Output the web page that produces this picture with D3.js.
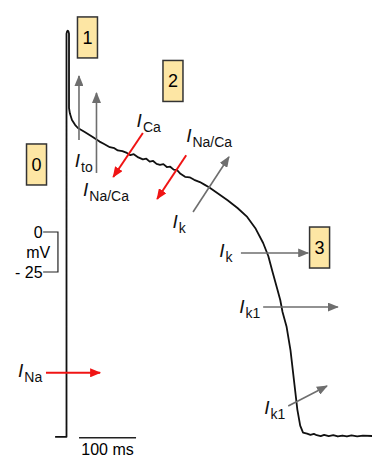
<!DOCTYPE html>
<html>
<head>
<meta charset="utf-8">
<script src="https://cdn.jsdelivr.net/npm/d3@7"></script>
<style>
  body { margin: 0; background: #fff; }
  svg { display: block; font-family: "Liberation Sans", Arial, Helvetica, sans-serif; }
</style>
</head>
<body>
<div id="chart"></div>
<script>
// cardiac action potential with ionic currents

const FRAME_WIDTH = 372;
const FRAME_HEIGHT = 460;

// trace: time (ms) and membrane voltage (mV)
const TRACE_T = [-20, 0, 0, 1, 2.2, 3.4, 4.4, 4.4, 6, 9.6, 15, 20, 32, 46, 58, 66, 76, 84, 90, 98,
  106, 112, 118, 126, 134, 140, 146, 152, 158, 164, 170, 176, 182, 188, 194, 200, 208, 216, 224, 234,
  242, 250, 262, 282, 300, 317, 332, 345, 354, 362, 370, 375, 379, 386, 393, 400, 405, 410, 415, 422, 428,
  434, 439, 446, 452, 460, 468, 476, 484, 492, 500, 510, 520, 536];
const TRACE_V = [-128, -128, 124, 125.4, 125.8, 125.4, 124, 77.5, 74, 70, 67, 65, 62.5, 59.4, 56.5, 55, 53, 52.4, 51, 50.5,
  49.4, 48, 48.6, 46.6, 45.4, 45.8, 44, 44.4, 42.6, 42, 42.4, 40.6, 40.8, 39, 38.6, 36.4, 34.5, 34.2, 32.6, 31.2,
  29.6, 28, 25, 20, 15, 9.4, 2, -6.9, -15, -25.6, -36, -42.5, -50, -59, -74, -95.6, -111, -121, -125.4, -126, -126.8,
  -126.2, -127, -127.6, -126.8, -127.6, -127, -127.8, -127.2, -127.8, -127.1, -127.7, -127.3, -127.5];

// phase boxes (centre position)
const BOX_LABELS = ['0', '1', '2', '3'];
const BOX_T = [-52.6, 36.8, 186.8, 444];
const BOX_V = [42.2, 121.6, 94.4, -9.7];

// current arrows: start/end in (ms, mV)
const ARROW_KIND = ['out', 'out', 'out', 'out', 'out', 'out', 'in', 'in', 'in'];
const ARROW_T0 = [21.9, 52.6, 222, 306, 345, 389, 134, 210, -36];
const ARROW_V0 = [57.5, 36.9, 12.5, -13.1, -46.9, -108.8, 61.9, 48, -88];
const ARROW_T1 = [21.9, 52.6, 285, 424, 476, 457, 82, 159, 59];
const ARROW_V1 = [97.5, 86.9, 46.9, -13.1, -46.9, -96.3, 34.4, 20.6, -88];

// current labels (I + subscript)
const LABEL_SUB = ['to', 'Na/Ca', 'Ca', 'Na/Ca', 'k', 'k', 'k1', 'k1', 'Na'];
const LABEL_T = [14.5, 29, 123, 210, 186, 268, 303, 347, -85];
const LABEL_V = [40.6, 22.5, 65.6, 56.3, 2.5, -15.6, -50.6, -114, -90.6];

// scale bars
const SCALE_MS = 100;
const SCALE_MS_START = 22;
const SCALE_MV = [0, -25];
const SCALE_MV_T = [-41, -15];

const svg = d3.select('#chart')
  .append('svg')
    .attr('width', FRAME_WIDTH)
    .attr('height', FRAME_HEIGHT);

// scales: 100 ms = 57 px, 25 mV = 40 px
const xscale = d3.scaleLinear()
  .domain([0, 100])
  .range([66.5, 123.5]);
const yscale = d3.scaleLinear()
  .domain([0, -25])
  .range([232, 272]);

const GRAY = '#6e6e6e';
const RED = '#f01414';

// arrow heads
const defs = svg.append('defs');
[['out', GRAY], ['in', RED]].forEach(([id, col]) => {
  defs.append('marker')
    .attr('id', 'head-' + id)
    .attr('markerUnits', 'userSpaceOnUse')
    .attr('viewBox', '0 0 11 9')
    .attr('refX', 10)
    .attr('refY', 4.5)
    .attr('markerWidth', 11)
    .attr('markerHeight', 9)
    .attr('orient', 'auto')
    .append('path')
      .attr('d', 'M0,0 L11,4.5 L0,9 z')
      .attr('fill', col);
});

// scale bars
const yBot = yscale(-128) + 1;
svg.append('line')
  .attr('x1', xscale(SCALE_MS_START)).attr('x2', xscale(SCALE_MS_START + SCALE_MS))
  .attr('y1', yBot).attr('y2', yBot)
  .attr('stroke', '#222').attr('stroke-width', 1.5);
svg.append('text')
  .attr('x', xscale(SCALE_MS_START + SCALE_MS / 2))
  .attr('y', yBot + 17)
  .attr('text-anchor', 'middle')
  .attr('font-size', '16px')
  .text(SCALE_MS + ' ms');

svg.append('path')
  .attr('d', 'M' + xscale(SCALE_MV_T[0]) + ',' + yscale(SCALE_MV[0]) +
             'H' + xscale(SCALE_MV_T[1]) + 'V' + yscale(SCALE_MV[1]) +
             'H' + xscale(SCALE_MV_T[0]))
  .attr('fill', 'none')
  .attr('stroke', '#222')
  .attr('stroke-width', 1.2);
svg.selectAll('.mvtick')
  .data(SCALE_MV)
  .enter()
  .append('text')
    .attr('class', 'mvtick')
    .attr('x', xscale(SCALE_MV_T[0]) - 0.5)
    .attr('y', (d) => yscale(d) + 6)
    .attr('text-anchor', 'end')
    .attr('font-size', '16px')
    .text((d) => d === 0 ? '0' : '- ' + Math.abs(d));
svg.append('text')
  .attr('x', xscale(SCALE_MV_T[0]) - 5)
  .attr('y', yscale(-12.5) + 6)
  .attr('text-anchor', 'middle')
  .attr('font-size', '16px')
  .text('mV');

// action potential trace
const trace = TRACE_T.map((t, i) => [t, TRACE_V[i]]);
svg.append('path')
  .datum(trace)
  .attr('d', d3.line()
    .x((d) => xscale(d[0]))
    .y((d) => yscale(d[1])))
  .attr('fill', 'none')
  .attr('stroke', '#111')
  .attr('stroke-width', 1.8)
  .attr('stroke-linejoin', 'round');

// current arrows
svg.selectAll('.arrow')
  .data(ARROW_KIND)
  .enter()
  .append('line')
    .attr('class', 'arrow')
    .attr('x1', (d, i) => xscale(ARROW_T0[i]))
    .attr('y1', (d, i) => yscale(ARROW_V0[i]))
    .attr('x2', (d, i) => xscale(ARROW_T1[i]))
    .attr('y2', (d, i) => yscale(ARROW_V1[i]))
    .attr('stroke', (d) => d === 'in' ? RED : GRAY)
    .attr('stroke-width', (d) => d === 'in' ? 2 : 1.6)
    .attr('marker-end', (d) => 'url(#head-' + d + ')');

// current labels
const labels = svg.selectAll('.curr')
  .data(LABEL_SUB)
  .enter()
  .append('text')
    .attr('class', 'curr')
    .attr('x', (d, i) => xscale(LABEL_T[i]))
    .attr('y', (d, i) => yscale(LABEL_V[i]))
    .attr('fill', '#111');
labels.append('tspan')
  .attr('font-size', '19px')
  .attr('font-style', 'italic')
  .text('I');
labels.append('tspan')
  .attr('font-size', '14px')
  .attr('dx', 1)
  .attr('dy', 5)
  .text((d) => d);

// phase boxes
const boxes = svg.selectAll('.phase')
  .data(BOX_LABELS)
  .enter()
  .append('g')
    .attr('class', 'phase')
    .attr('transform', (d, i) => 'translate(' + xscale(BOX_T[i]) + ',' + yscale(BOX_V[i]) + ')');
boxes.append('rect')
  .attr('x', -10).attr('y', -20.5)
  .attr('width', 20).attr('height', 41)
  .attr('fill', '#fde6a4')
  .attr('stroke', '#333')
  .attr('stroke-width', 1.5);
boxes.append('text')
  .attr('y', 6.5)
  .attr('text-anchor', 'middle')
  .attr('font-size', '18px')
  .text((d) => d);
</script>
</body>
</html>
